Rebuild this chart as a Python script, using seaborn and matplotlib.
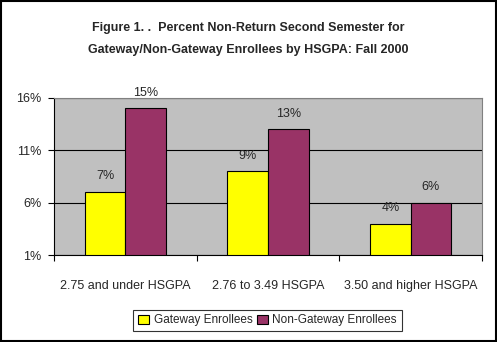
import matplotlib
matplotlib.use("Agg")
import matplotlib.pyplot as plt
import seaborn as sns
import pandas as pd
from matplotlib.ticker import FixedLocator
from matplotlib.patches import Rectangle

categories = ["2.75 and under HSGPA", "2.76 to 3.49 HSGPA", "3.50 and higher HSGPA"]
series = ["Gateway Enrollees", "Non-Gateway Enrollees"]
gateway = [7, 9, 4]
non_gateway = [15, 13, 6]
yticks = [1, 6, 11, 16]

df = pd.DataFrame({
    "cat": categories * 2,
    "series": [series[0]] * 3 + [series[1]] * 3,
    "value": gateway + non_gateway,
})

sns.set_theme(style="white")
plt.rcParams["font.family"] = ["Liberation Sans", "DejaVu Sans"]

fig = plt.figure(figsize=(4.97, 3.42), dpi=100)
ax = fig.add_axes([54/497, 1 - 255/342, 428/497, 157/342])
ax.set_facecolor("#C0C0C0")
ax.set_axisbelow(True)

sns.barplot(data=df, x="cat", y="value", hue="series", hue_order=series,
            palette=["#FFFF00", "#993366"], width=0.57, edgecolor="black",
            linewidth=0.8, ax=ax, legend=True, saturation=1)

ax.set_ylim(1, 16)
ax.set_xlim(-0.5, 2.5)
ax.yaxis.set_major_locator(FixedLocator(yticks))
ax.set_yticklabels([f"{v}%" for v in yticks], fontsize=9)
ax.xaxis.set_major_locator(FixedLocator([0, 1, 2]))
ax.xaxis.set_minor_locator(FixedLocator([-0.5, 0.5, 1.5, 2.5]))
ax.tick_params(axis="x", which="major", length=0, pad=18, labelsize=9)
ax.tick_params(axis="x", which="minor", length=4, width=0.8, color="black", direction="out", bottom=True)
ax.tick_params(axis="y", length=4, width=0.8, color="black", direction="out", left=True, labelsize=9, pad=5)
ax.yaxis.grid(True, color="black", linewidth=0.8)
ax.xaxis.grid(False)
ax.set_xlabel("")
ax.set_ylabel("")
for s in ["top", "right"]:
    ax.spines[s].set_color("#808080")
    ax.spines[s].set_linewidth(0.8)
for s in ["left", "bottom"]:
    ax.spines[s].set_color("black")
    ax.spines[s].set_linewidth(0.8)

for cont in ax.containers:
    ax.bar_label(cont, labels=[f"{v:.0f}%" for v in cont.datavalues], padding=7, fontsize=9)

leg = ax.get_legend()
leg.remove()
handles, labels = ax.get_legend_handles_labels()
fleg = fig.legend(handles[:2], labels[:2], loc="center", bbox_to_anchor=(267.5/497, 1 - 320.5/342),
                  ncol=2, frameon=True, fancybox=False, edgecolor="black", fontsize=8.5,
                  handlelength=0.9, handleheight=0.9, handletextpad=0.4, columnspacing=0.4,
                  borderpad=0.4)
fleg.get_frame().set_linewidth(0.8)

fig.text(0.5, 1 - 28/342, "Figure 1. .  Percent Non-Return Second Semester for",
         ha="center", va="center", fontsize=9, fontweight="bold")
fig.text(0.5, 1 - 50/342, "Gateway/Non-Gateway Enrollees by HSGPA: Fall 2000",
         ha="center", va="center", fontsize=9, fontweight="bold")

fig.patches.append(Rectangle((0.002, 0.003), 0.995, 0.994, transform=fig.transFigure,
                             fill=False, edgecolor="black", linewidth=1.5))

fig.savefig("out.png", dpi=100)
